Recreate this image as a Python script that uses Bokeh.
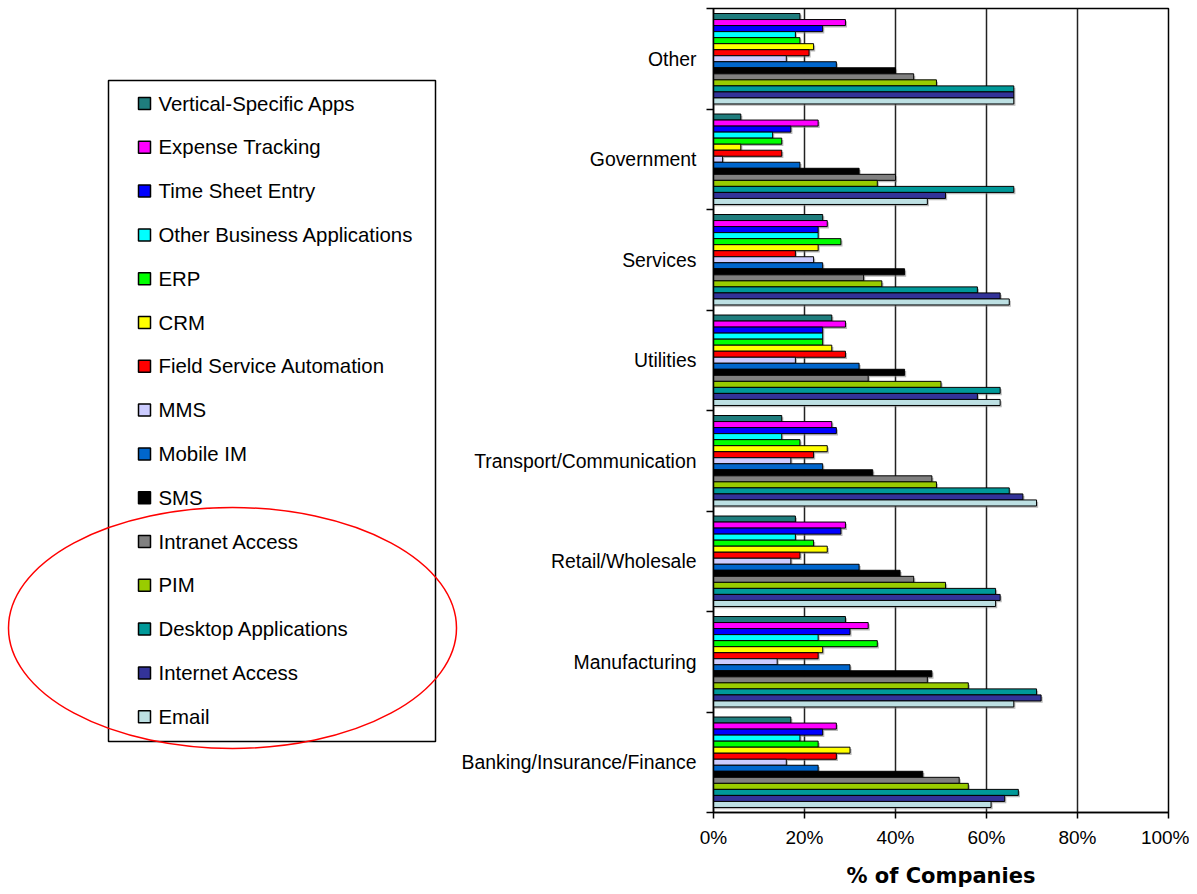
from bokeh.plotting import figure
from bokeh.layouts import row
from bokeh.models import Range1d, FixedTicker, PrintfTickFormatter, ColumnDataSource, LinearAxis
from bokeh.core.properties import value
from bokeh.embed import file_html
from bokeh.resources import INLINE

# ---------------- data ----------------
categories = ["Other", "Government", "Services", "Utilities",
              "Transport/Communication", "Retail/Wholesale",
              "Manufacturing", "Banking/Insurance/Finance"]  # top to bottom

series_names = ["Vertical-Specific Apps", "Expense Tracking", "Time Sheet Entry",
                "Other Business Applications", "ERP", "CRM",
                "Field Service Automation", "MMS", "Mobile IM", "SMS",
                "Intranet Access", "PIM", "Desktop Applications",
                "Internet Access", "Email"]

series_colors = ["#1f7d7d", "#ff00ff", "#0000ff", "#00ffff", "#00ff00", "#ffff00",
                 "#ff0000", "#ccccff", "#0066cc", "#000000", "#808080", "#99cc00",
                 "#009999", "#333399", "#bde0e3"]

# values in % of companies, ordered like `categories`
vertical_specific_apps = [19, 6, 24, 26, 15, 18, 29, 17]
expense_tracking       = [29, 23, 25, 29, 26, 29, 34, 27]
time_sheet_entry       = [24, 17, 23, 24, 27, 28, 30, 24]
other_business_apps    = [18, 13, 23, 24, 15, 18, 23, 19]
erp                    = [19, 15, 28, 24, 19, 22, 36, 23]
crm                    = [22, 6, 23, 26, 25, 25, 24, 30]
field_service_auto     = [21, 15, 18, 29, 22, 19, 23, 27]
mms                    = [16, 2, 22, 18, 17, 17, 14, 16]
mobile_im              = [27, 19, 24, 32, 24, 32, 30, 23]
sms                    = [40, 32, 42, 42, 35, 41, 48, 46]
intranet_access        = [44, 40, 33, 34, 48, 44, 47, 54]
pim                    = [49, 36, 37, 50, 49, 51, 56, 56]
desktop_applications   = [66, 66, 58, 63, 65, 62, 71, 67]
internet_access        = [66, 51, 63, 58, 68, 63, 72, 64]
email                  = [66, 47, 65, 63, 71, 62, 66, 61]

series_values = [vertical_specific_apps, expense_tracking, time_sheet_entry,
                 other_business_apps, erp, crm, field_service_auto, mms,
                 mobile_im, sms, intranet_access, pim, desktop_applications,
                 internet_access, email]

x_ticks = [0, 20, 40, 60, 80, 100]

FONT = "Liberation Sans"

# ---------------- layout constants (screen pixels) ----------------
H = 893
TOP = 8
BOTTOM = 81
LEFT_W = 458

# ---------------- bar chart ----------------
n_cat = len(categories)
n_ser = len(series_names)
group_frac = 0.9
bar_h = group_frac / n_ser

p = figure(width=731, height=H, x_range=Range1d(0, 100), y_range=Range1d(0, n_cat),
           output_backend="svg", toolbar_location=None, y_axis_location=None,
           min_border_left=255, min_border_right=21, min_border_top=TOP,
           min_border_bottom=BOTTOM)
p.background_fill_color = "white"
p.outline_line_color = "black"
p.outline_line_width = 1.5

# category centers (top category at the top)
centers = [n_cat - i - 0.5 for i in range(n_cat)]

# drop shadows first
for j in range(n_ser):
    ys = [c + group_frac / 2 - (j + 0.5) * bar_h for c in centers]
    src = ColumnDataSource(dict(y=[y - 0.018 for y in ys],
                                right=[v + 0.35 for v in series_values[j]]))
    p.hbar(y="y", left=0, right="right", height=bar_h, source=src,
           fill_color="#808080", fill_alpha=0.55, line_color=None)

for j in range(n_ser):
    ys = [c + group_frac / 2 - (j + 0.5) * bar_h for c in centers]
    src = ColumnDataSource(dict(y=ys, right=series_values[j]))
    p.hbar(y="y", left=0, right="right", height=bar_h, source=src,
           fill_color=series_colors[j], line_color="black", line_width=1)

# x axis
p.xaxis.ticker = FixedTicker(ticks=x_ticks)
p.xaxis.formatter = PrintfTickFormatter(format="%d%%")
p.xaxis.major_tick_out = 6
p.xaxis.major_tick_in = 0
p.xaxis.minor_tick_line_color = None
p.xaxis.axis_line_width = 1.5
p.xaxis.major_tick_line_width = 1.5
p.xaxis.major_label_standoff = 8
p.xaxis.major_label_text_font = FONT
p.xaxis.major_label_text_font_size = "19px"
p.xaxis.major_label_text_color = "black"
p.xaxis.axis_label = "% of Companies"
p.xaxis.axis_label_text_font = "DejaVu Sans"
p.xaxis.axis_label_text_font_style = "bold"
p.xaxis.axis_label_text_font_size = "21px"
p.xaxis.axis_label_text_color = "black"
p.xaxis.axis_label_standoff = 13

# grid
p.xgrid.ticker = FixedTicker(ticks=x_ticks)
p.xgrid.grid_line_color = "#222222"
p.xgrid.grid_line_width = 1.5
p.ygrid.grid_line_color = None

# y axis: labels at category centres, ticks at category boundaries
yax = LinearAxis(ticker=FixedTicker(ticks=centers, minor_ticks=list(range(n_cat + 1))),
                 major_label_overrides={c: categories[i] for i, c in enumerate(centers)})
yax.major_tick_line_color = None
yax.major_tick_out = 0
yax.major_tick_in = 0
yax.minor_tick_out = 7
yax.minor_tick_in = 0
yax.minor_tick_line_width = 1.5
yax.axis_line_width = 1.5
yax.major_label_standoff = 10
yax.major_label_text_font = FONT
yax.major_label_text_font_size = "19.4px"
yax.major_label_text_color = "black"
p.add_layout(yax, "left")

# ---------------- legend panel (data units = screen pixels) ----------------
f = figure(width=LEFT_W, height=H, x_range=Range1d(0, LEFT_W),
           y_range=Range1d(H - BOTTOM, TOP),
           output_backend="svg", toolbar_location=None,
           min_border_left=0, min_border_right=0,
           min_border_top=TOP, min_border_bottom=BOTTOM)
f.axis.visible = False
f.grid.grid_line_color = None
f.outline_line_color = None

f.quad(left=108, right=435, top=80, bottom=741, fill_color=None,
       line_color="black", line_width=1.5)
item_y = [103 + i * 43.8 for i in range(n_ser)]
f.rect(x=144, y=item_y, width=12, height=12, fill_color=series_colors,
       line_color="black", line_width=1.5)
f.text(x=158, y=item_y, text=series_names, text_font=value(FONT),
       text_font_size="20.4px", text_baseline="middle", text_color="black")

ell = f.ellipse(x=232, y=627.5, width=448, height=241, fill_color=None,
                line_color="#ff0000", line_width=1.5)
ell.level = "overlay"

layout = row(f, p)
open("out.html", "w").write(file_html(layout, INLINE))
